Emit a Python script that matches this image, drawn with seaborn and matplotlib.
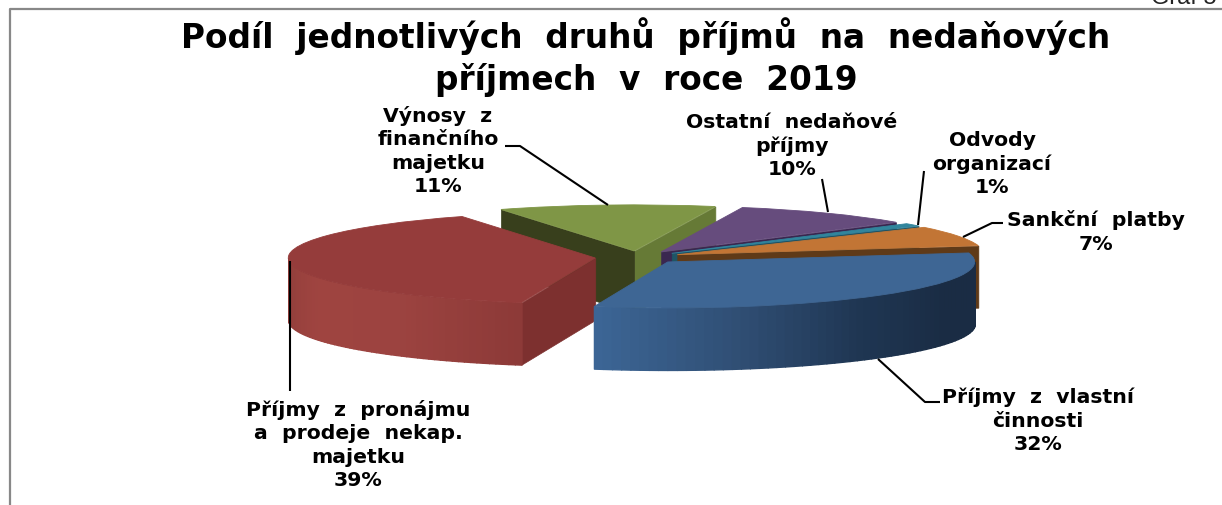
import numpy as np
import matplotlib
matplotlib.use("Agg")
import matplotlib.pyplot as plt
import seaborn as sns

# data, in the order the pie runs counter-clockwise
labels = ["Sankční  platby", "Odvody\norganizací", "Ostatní  nedaňové\npříjmy",
          "Výnosy  z\nfinančního\nmajetku", "Příjmy  z  pronájmu\na  prodeje  nekap.\nmajetku",
          "Příjmy  z  vlastní\nčinnosti"]
shares = [7, 1, 9.6, 11.4, 39, 32]

title = "Podíl  jednotlivých  druhů  příjmů  na  nedaňových\npříjmech  v  roce  2019"

top_colors = ["#c27535", "#31859c", "#664c7d", "#7f9646", "#953c3b", "#3e6694"]
wall1_colors = ["#5f3a18", "#1f5565", "#3a2750", "#667a36", "#7d302f", "#1a2c44"]
wall2_colors = ["#5f3a18", "#1f5565", "#3a2750", "#383f1c", "#7d302f", "#1a2c44"]
arc_colors = {
    4: ["#8f3d3a", "#9f4440", "#9c4340", "#8d3a38"],
    5: ["#3c6595", "#304f75", "#1f3653", "#1a2c44", "#1a2c44"],
}

# pie geometry in pixels
W, H = 1222, 506
CX, CY = 638, 258.3
RX, RY = 307, 46
DEPTH = 62 / RY


def px(x, y):
    return (x - CX) / RX, (CY - y) / RY


sns.set_theme(style="white")
plt.rcParams["font.family"] = ["DejaVu Sans"]

fig, ax = plt.subplots(figsize=(W / 100, H / 100), dpi=100)
fig.subplots_adjust(0, 0, 1, 1)

wedges, _ = ax.pie(shares, explode=[0.14] * 6, startangle=11.3, colors=top_colors,
                   counterclock=True, wedgeprops={"linewidth": 0.6})
ax.set_aspect("auto")
ax.set_xlim(-CX / RX, (W - CX) / RX)
ax.set_ylim((CY - H) / RY, CY / RY)

# back slices first, each side wall under its own top
order = sorted(range(6), key=lambda i: -np.sin(np.radians((wedges[i].theta1 + wedges[i].theta2) / 2)))
for z, i in enumerate(order):
    w = wedges[i]
    cx, cy = w.center
    wedge_z = 2 + z * 3
    t1, t2 = w.theta1, w.theta2

    if np.cos(np.radians(t1)) > 0:
        x = [cx, cx + np.cos(np.radians(t1))]
        y = [cy, cy + np.sin(np.radians(t1))]
        ax.fill_between(x, y, np.array(y) - DEPTH, color=wall1_colors[i], lw=0.5, zorder=wedge_z)
    if np.cos(np.radians(t2)) < 0:
        x = [cx + np.cos(np.radians(t2)), cx]
        y = [cy + np.sin(np.radians(t2)), cy]
        ax.fill_between(x, y, np.array(y) - DEPTH, color=wall2_colors[i], lw=0.5, zorder=wedge_z)

    # outer rim, only the part that faces the viewer
    if i in arc_colors:
        lo, hi = max(t1, 180), min(t2, 360)
        thetas = np.radians(np.linspace(lo, hi, 61))
        shades = sns.blend_palette(arc_colors[i], 60)
        for k in range(60):
            a = thetas[k:k + 2]
            ax.fill_between(cx + np.cos(a), cy + np.sin(a), cy + np.sin(a) - DEPTH,
                            color=shades[k], lw=1.0, zorder=wedge_z + 1)
    w.set_edgecolor(w.get_facecolor())
    w.set_zorder(wedge_z + 2)

# label text and leader lines
leaders = [
    [(963, 238), (992, 224), (1003, 224)],
    [(918, 226), (924, 172)],
    [(828, 213), (822, 180)],
    [(608, 206), (520, 147), (505, 147)],
    [(290, 262), (290, 392)],
    [(878, 360), (925, 403), (940, 403)],
]
for pts in leaders:
    xs, ys = zip(*[px(*p) for p in pts])
    ax.plot(xs, ys, color="black", lw=1.5, zorder=40, solid_capstyle="butt")

label_pos = [(1096, 232), (992, 164), (792, 146), (438, 151), (358, 445), (1038, 421)]
for lab, share, pos in zip(labels, shares, label_pos):
    ax.text(*px(*pos), f"{lab}\n{round(share)}%", ha="center", va="center", fontsize=14.7,
            fontweight="bold", color="black", linespacing=1.3, zorder=50)

ax.text(*px(646, 57), title, ha="center", va="center", fontsize=23.6, fontweight="bold",
        color="black", linespacing=1.27, zorder=50)

# clipped caption and frame of the chart
ax.text(*px(1217, 4), "Graf 5", ha="right", va="baseline", fontsize=17, color="#222222",
        family="Liberation Sans")
ax.plot(*zip(px(10, 506), px(10, 10), px(1222, 10)), color="#888888", lw=1.6, zorder=60)

fig.savefig("out.png", dpi=100)
